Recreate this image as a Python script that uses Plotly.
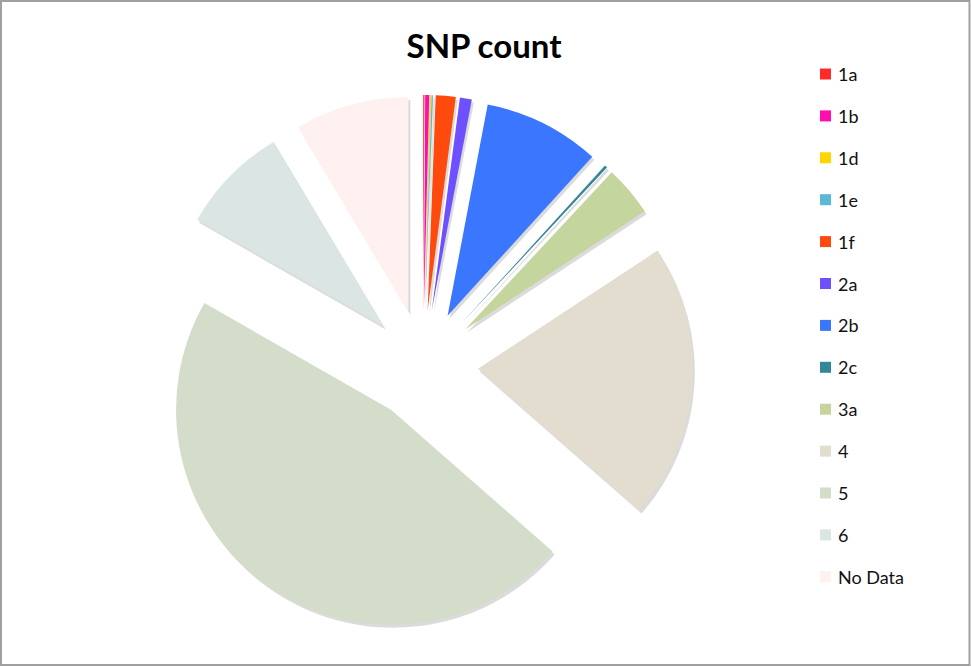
import plotly.graph_objects as go

categories = ["1a", "1b", "1d", "1e", "1f", "2a", "2b", "2c", "3a", "4", "5", "6", "No Data"]
snp_counts = [1, 3, 1, 1, 15, 9, 88, 2, 38, 208, 470, 82, 86]
colors = ["#FF2B2B", "#FF0DAF", "#FFD500", "#5DB7D6", "#FF4A0D", "#6E50FF", "#3B76FF",
          "#348699", "#C4D59D", "#E2DDCF", "#D3DDCA", "#DBE5E4", "#FFF1F0"]

W, H = 971, 667
cx, cy, half = 423, 365, 270
pull = 0.256

def dom(dx=0, dy=0):
    return dict(x=[(cx - half + dx) / W, (cx + half + dx) / W],
                y=[(H - cy - half - dy) / H, (H - cy + half - dy) / H])

fig = go.Figure()
# soft shadow
fig.add_trace(go.Pie(
    labels=categories, values=snp_counts, sort=False, direction="clockwise", rotation=0,
    pull=[pull] * len(categories), domain=dom(2, 3), textinfo="none", hoverinfo="skip",
    marker=dict(colors=["rgba(0,0,0,0.14)"] * len(categories), line=dict(width=0)),
    showlegend=False,
))
fig.add_trace(go.Pie(
    labels=categories, values=snp_counts, sort=False, direction="clockwise", rotation=0,
    pull=[pull] * len(categories), domain=dom(), textinfo="none",
    marker=dict(colors=colors, line=dict(width=0)),
    showlegend=False,
))

# legend built from the data arrays
y0, step = 74, 41.9
shapes = []
annotations = []
for i, (lab, col) in enumerate(zip(categories, colors)):
    yc = y0 + i * step
    shapes.append(dict(type="rect", xref="paper", yref="paper",
                       x0=820 / W, x1=831 / W, y0=(H - yc - 5.5) / H, y1=(H - yc + 5.5) / H,
                       fillcolor=col, line=dict(width=0)))
    annotations.append(dict(text=lab, xref="paper", yref="paper", x=836 / W, y=(H - yc) / H,
                            xanchor="left", yanchor="middle", showarrow=False,
                            font=dict(family="Lato", size=18, color="#111111")))

shapes.append(dict(type="rect", xref="paper", yref="paper",
                   x0=1 / W, x1=969.5 / W, y0=2 / H, y1=666 / H,
                   line=dict(color="#A0A0A0", width=2), fillcolor="rgba(0,0,0,0)"))

fig.update_layout(
    width=W, height=H,
    margin=dict(l=0, r=0, t=0, b=0),
    paper_bgcolor="white", plot_bgcolor="white",
    title=dict(text="<b>SNP count</b>", x=484 / W, xanchor="center", y=(H - 46) / H, yanchor="middle",
               font=dict(family="Lato", size=33, color="#000000")),
    shapes=shapes, annotations=annotations,
    showlegend=False,
)

fig.write_html("out.html", config={"displayModeBar": False},
               post_script="document.body.style.margin='0';document.body.style.overflow='hidden';")
